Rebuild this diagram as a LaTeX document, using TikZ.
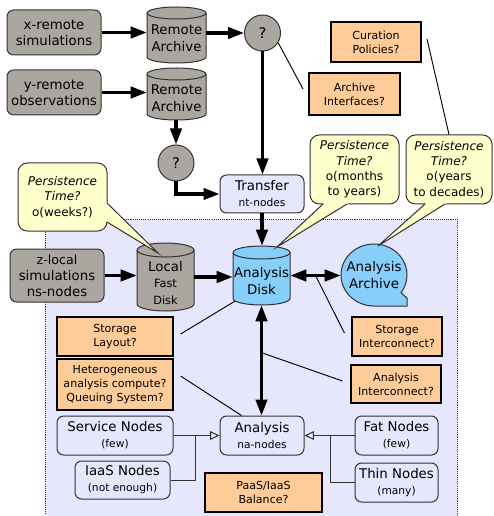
\documentclass[tikz,border=0pt]{standalone}
\usepackage{fontspec}
\setmainfont{DejaVu Sans}
\usetikzlibrary{arrows.meta,calc}
\definecolor{grayfill}{RGB}{172,166,160}
\definecolor{linegray}{RGB}{50,50,50}
\definecolor{lav}{RGB}{230,230,252}
\definecolor{orangefill}{RGB}{255,204,153}
\definecolor{yellowfill}{RGB}{255,255,204}
\definecolor{bluefill}{RGB}{135,206,250}
\tikzset{
 every node/.style={align=center, font=\fontsize{10}{12}\selectfont, text=black},
 sz/.style 2 args={minimum width=#1*0.75pt, minimum height=#2*0.75pt},
 graybox/.style={draw=linegray, fill=grayfill, rounded corners=5pt, line width=0.75pt, inner sep=0pt},
 lavbox/.style={draw=linegray, fill=lav, rounded corners=5pt, line width=0.75pt, inner sep=0pt},
 obox/.style={draw=black, fill=orangefill, line width=0.9pt, inner sep=0pt, font=\fontsize{8.3}{10.5}\selectfont},
 bubble/.style={draw=linegray, fill=yellowfill, rounded corners=7pt, line width=0.75pt, inner sep=0pt, font=\fontsize{9}{11.5}\selectfont},
 qcirc/.style={circle, draw=linegray, fill=grayfill, line width=0.75pt, minimum size=27pt, inner sep=0pt, font=\fontsize{11}{12}\selectfont},
 bigarrow/.style={line width=2.4pt, -{Triangle[length=12pt,width=8.5pt]}},
 bigdarrow/.style={line width=2.4pt, {Triangle[length=12pt,width=8.5pt]}-{Triangle[length=12pt,width=8.5pt]}},
 openarrow/.style={line width=0.75pt, draw=linegray, -{Triangle[open,length=7pt,width=6.5pt]}},
 thinline/.style={line width=0.7pt, draw=black},
 elbow/.style={line width=0.75pt, draw=linegray},
 cylline/.style={draw=linegray, line width=0.75pt},
 cyltext/.style={font=\fontsize{10}{12.5}\selectfont, inner sep=0pt},
}
\newcommand{\cylshape}[7]{%
  \path[cylline, fill=#7] (#2-#5,#3+#6) -- (#2-#5,#4-#6)
    arc[start angle=180, end angle=0, x radius=#5, y radius=#6]
    -- (#2+#5,#3+#6)
    arc[start angle=0, end angle=-180, x radius=#5, y radius=#6] -- cycle;
  \draw[cylline] (#2-#5,#3+#6) arc[start angle=180, end angle=0, x radius=#5, y radius=#6];
  \node[inner sep=0pt, minimum width={2*#5*0.75pt}, minimum height={(#4-#3)*0.75pt}] (#1) at (#2,{(#3+#4)/2}) {};
}
\newcommand{\bubpointer}[3]{%
  \fill[yellowfill] ($(#2)!1.05!(#1)$) -- (#2) -- ($(#2)!1.05!(#3)$) -- cycle;
  \draw[linegray, line width=0.75pt] (#1) -- (#2) -- (#3);
}
\begin{document}
\begin{tikzpicture}[x=0.75pt,y=-0.75pt]
\useasboundingbox (0,0) rectangle (493,516);
% background region
\draw[fill=lav, draw=linegray, line width=0.6pt, dash pattern=on 0.8pt off 0.8pt] (45,219) rectangle (457,518);

% remote sources
\node[graybox, sz={94}{45}] (xrs) at (54,32.5) {x-remote\\simulations};
\node[graybox, sz={94}{45}] (yro) at (54,92.5) {y-remote\\observations};
\cylshape{ra1}{176.5}{7}{63}{29.5}{6}{grayfill}
\node[cyltext] (ra1t) at (176.5,38) {Remote\\Archive};
\cylshape{ra2}{176.5}{68}{120}{29.5}{6}{grayfill}
\node[cyltext] (ra2t) at (176.5,98) {Remote\\Archive};
\node[qcirc] (q1) at (262.5,33) {?};
\node[qcirc] (q2) at (176,163) {?};
\node[lavbox, sz={84}{38}] (tr) at (262,194) {Transfer\\\fontsize{8}{10}\selectfont nt-nodes};

% questions top right
\node[obox, sz={90}{40}] (cur) at (376,42) {Curation\\Policies?};
\node[obox, sz={91}{42}] (aif) at (354.5,94) {Archive\\Interfaces?};

% local
\node[graybox, sz={94}{53}] (zloc) at (57,275.5) {\fontsize{9.5}{12.3}\selectfont z-local\\simulations\\ns-nodes};
\cylshape{lfd}{165.5}{243}{311}{28.5}{7}{grayfill}
\node[cyltext] (lfdt) at (165.5,283) {Local\\\fontsize{8.5}{10.5}\selectfont Fast\\\fontsize{8.5}{10.5}\selectfont Disk};
\cylshape{ad}{261.5}{246}{305}{28.5}{6.5}{bluefill}
\node[cyltext] (adt) at (261.5,281) {Analysis\\Disk};
% analysis archive (tape symbol)
\path[cylline, fill=bluefill] (374,306) arc[start angle=90, end angle=395, x radius=33, y radius=31] -- (407,298) -- (407,306) -- cycle;
\node[cyltext, sz={66}{62}] (arch) at (374,275) {Analysis\\Archive};

% boxes inside region
\node[obox, sz={116}{39}] (sl) at (115,336.5) {Storage\\Layout?};
\node[obox, sz={116}{51}] (het) at (115,384.5) {Heterogeneous\\analysis compute?\\Queuing System?};
\node[obox, sz={90}{39}] (sic) at (397,336.5) {Storage\\Interconnect?};
\node[obox, sz={90}{38}] (aic) at (396,384) {Analysis\\Interconnect?};
\node[lavbox, sz={84}{39}] (ana) at (262,435.5) {Analysis\\\fontsize{8}{10}\selectfont na-nodes};
\node[lavbox, sz={116}{39}] (svc) at (115,435.5) {Service Nodes\\\fontsize{8}{10}\selectfont(few)};
\node[lavbox, sz={95}{38}] (iaas) at (122.5,480) {IaaS Nodes\\\fontsize{8}{10}\selectfont(not enough)};
\node[obox, sz={117}{39}] (paas) at (263.5,492.5) {PaaS/IaaS\\Balance?};
\node[lavbox, sz={83}{39}] (fat) at (396.5,435.5) {Fat Nodes\\\fontsize{8}{10}\selectfont(few)};
\node[lavbox, sz={83}{39}] (thin) at (396.5,482.5) {Thin Nodes\\\fontsize{8}{10}\selectfont(many)};

% bubbles
\node[bubble, sz={89}{68}] (bub1) at (62.5,197) {\textit{Persistence}\\\textit{Time?}\\o(weeks?)};
\node[bubble, sz={89}{69}] (bub2) at (354.5,169.5) {\textit{Persistence}\\\textit{Time?}\\o(months\\to years)};
\node[bubble, sz={86}{69}] (bub3) at (449,169.5) {\textit{Persistence}\\\textit{Time?}\\o(years\\to decades)};
\coordinate (p1a) at (107,203); \coordinate (p1t) at (158,253); \coordinate (p1b) at (107,222);
\coordinate (p2a) at (323,204); \coordinate (p2t) at (277,247); \coordinate (p2b) at (347,204);
\coordinate (p3a) at (425,204); \coordinate (p3t) at (378,246); \coordinate (p3b) at (445,204);
\bubpointer{p1a}{p1t}{p1b}
\bubpointer{p2a}{p2t}{p2b}
\bubpointer{p3a}{p3t}{p3b}

% thick arrows
\draw[bigarrow] (xrs.east) -- (xrs.east -| ra1.west);
\draw[bigarrow] (yro.east) -- (yro.east -| ra2.west);
\draw[bigarrow] (ra1.east |- q1.west) -- (q1.west);
\draw[bigarrow] (q2.north |- ra2.south) -- (q2.north);
\draw[bigarrow] (q2.south) |- (tr.west);
\draw[bigarrow] (q1.south) -- (q1.south |- tr.north);
\draw[bigarrow] (tr.south) -- (tr.south |- ad.north);
\draw[bigarrow] (zloc.east) -- (zloc.east -| lfd.west);
\draw[bigarrow] (lfd.east) -- (lfd.east -| ad.west);
\draw[bigdarrow] (ad.east) -- (ad.east -| arch.west);
\draw[bigdarrow] (ad.south) -- (ad.south |- ana.north);

% annotation lines
\coordinate (c1) at (303,89);
\draw[thinline] (q1.-32) -- (c1);
\coordinate (c2) at (427,39);
\draw[thinline] (c2) -- (bub3.north);
\coordinate (c3) at ($(sl.east)+(7,-2.5)$);
\coordinate (c4) at ($(ad.south west)+(2,-4)$);
\draw[thinline] (c3) -- (c4);
\coordinate (c5) at ($(het.east)+(7,-8.5)$);
\coordinate (c6) at ($(ana.north west)+(22,0)$);
\draw[thinline] (c5) -- (c6);
\coordinate (c7) at ($(ad.east)!0.5!(ad.east -| arch.west)$);
\coordinate (c8) at ($(sic.west)+(-7,-3.5)$);
\draw[thinline] (c7) -- (c8);
\coordinate (c9) at ($(ad.south)!0.43!(ad.south |- ana.north)$);
\coordinate (c10) at ($(aic.west)+(-8,-3)$);
\draw[thinline] (c9) -- (c10);

% node connectors
\draw[openarrow] (svc.east) -- (ana.west);
\coordinate (jl) at (195,435.5);
\draw[elbow] (iaas.east) -| (jl);
\draw[openarrow] (fat.west) -- (ana.east);
\coordinate (jr) at (330,435.5);
\draw[elbow] (thin.west) -| (jr);
\end{tikzpicture}
\end{document}
